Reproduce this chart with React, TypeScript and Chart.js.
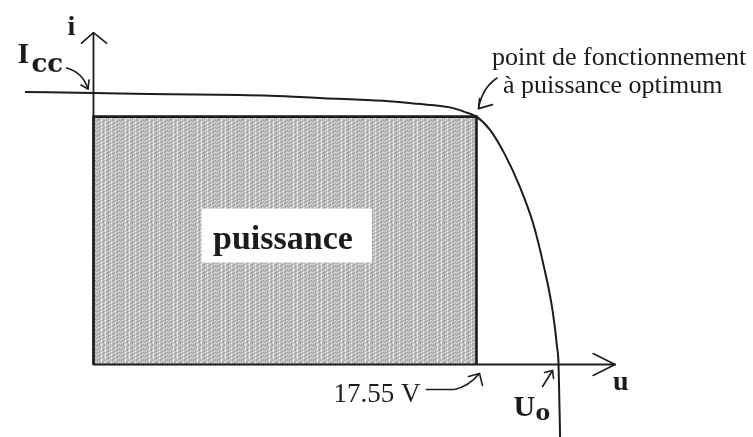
import React, { useEffect, useRef } from "react";
import { Chart, registerables } from "chart.js";

Chart.register(...registerables);

// I–V curve of the panel (u in volts, i relative to Icc)
const curveU = [-3.14, 0, 2.59, 8.09, 10.52, 13.27, 14.82, 16.34, 17.12, 17.55, 18.17, 18.86, 19.54, 20.14, 20.6, 21.01, 21.24, 21.31, 21.38];
const curveI = [1.004, 1.0, 0.996, 0.99, 0.981, 0.971, 0.96, 0.947, 0.927, 0.913, 0.864, 0.772, 0.654, 0.521, 0.374, 0.212, 0.065, 0, -0.267];

// power rectangle at the optimum operating point
const U_OPT = 17.55;
const I_OPT = 0.913;
const rectU = [0, 0, U_OPT, U_OPT];
const rectI = [0, I_OPT, I_OPT, 0];

// axis extents
const X_MIN = -4.284;
const X_MAX = 30.22;
const Y_MIN = -0.267;
const Y_MAX = 1.3425;
const X_AXIS_END = 23.9;
const Y_AXIS_END = 1.222;

const LABEL_POWER = "puissance";
const LABEL_OPT1 = "point de fonctionnement";
const LABEL_OPT2 = "à puissance optimum";
const LABEL_VOPT = "17.55 V";

const INK = "#1c1c1c";
const SERIF = "'Liberation Serif', 'Times New Roman', serif";
const SERIF2 = "'DejaVu Serif', serif";

function makePattern(): CanvasPattern | string {
  const c = document.createElement("canvas");
  c.width = 24;
  c.height = 15;
  const g = c.getContext("2d");
  if (!g) return "#c2c2c2";
  const cols = [196, 182, 204, 176, 198, 226, 186, 180, 202, 230, 184, 194, 172, 204, 190, 222, 184, 198, 178, 212, 192, 176, 206, 188];
  const rows = [0, -22, 12, -10, 18, -30, 6];
  for (let x = 0; x < 24; x++) {
    for (let y = 0; y < 15; y++) {
      const v = Math.max(0, Math.min(255, cols[x] + rows[(x * 5 + y * 3) % 7]));
      g.fillStyle = `rgb(${v},${v},${v})`;
      g.fillRect(x, y, 1, 1);
    }
  }
  const p = g.createPattern(c, "repeat");
  return p || "#c2c2c2";
}

function arrowHead(ctx: CanvasRenderingContext2D, tx: number, ty: number, b1: [number, number], b2: [number, number]) {
  ctx.beginPath();
  ctx.moveTo(b1[0], b1[1]);
  ctx.lineTo(tx, ty);
  ctx.lineTo(b2[0], b2[1]);
  ctx.stroke();
}

const annotPlugin = {
  id: "annot",
  afterDatasetsDraw(chart: any) {
    const ctx: CanvasRenderingContext2D = chart.ctx;
    const xs = chart.scales.x;
    const ys = chart.scales.y;
    const X = (v: number) => xs.getPixelForValue(v);
    const Y = (v: number) => ys.getPixelForValue(v);
    const ox = X(0);
    const oy = Y(0);
    ctx.save();
    ctx.strokeStyle = INK;
    ctx.fillStyle = INK;
    ctx.lineCap = "round";
    ctx.lineJoin = "round";

    // axes
    ctx.lineWidth = 1.8;
    ctx.beginPath();
    ctx.moveTo(ox, oy);
    ctx.lineTo(ox, Y(Y_AXIS_END));
    ctx.moveTo(ox, oy);
    ctx.lineTo(X(X_AXIS_END), oy);
    ctx.stroke();
    ctx.lineWidth = 1.6;
    const yt = Y(Y_AXIS_END);
    arrowHead(ctx, ox, yt, [ox - 12, yt + 10.5], [ox + 13, yt + 10.5]);
    const xt = X(X_AXIS_END);
    arrowHead(ctx, xt, oy, [xt - 22, oy - 11], [xt - 22, oy + 11]);

    // white label box inside the power rectangle
    const rcx = (X(0) + X(U_OPT)) / 2 + 2;
    const rcy = (Y(0) + Y(I_OPT)) / 2 - 5;
    ctx.fillStyle = "#ffffff";
    ctx.fillRect(rcx - 85, rcy - 27, 170, 54);
    ctx.fillStyle = INK;
    ctx.textBaseline = "alphabetic";
    ctx.textAlign = "left";
    ctx.font = `bold 34px ${SERIF}`;
    ctx.fillText(LABEL_POWER, rcx - 74, rcy + 13);

    // axis names
    ctx.font = `bold 28px ${SERIF}`;
    ctx.fillText("i", ox - 26, yt + 2);
    ctx.font = `bold 30px ${SERIF}`;
    ctx.fillText("I", ox - 76, Y(1) - 30);
    ctx.font = `bold 26px ${SERIF2}`;
    ctx.fillText("cc", ox - 62, Y(1) - 21);
    ctx.font = `bold 28px ${SERIF}`;
    ctx.fillText("u", xt - 2, oy + 25);

    // Icc arrow
    ctx.lineWidth = 1.6;
    const ix = ox - 5.5;
    const iy = Y(1) - 4;
    ctx.beginPath();
    ctx.moveTo(ox - 27, Y(1) - 25);
    ctx.quadraticCurveTo(ox - 11, Y(1) - 21, ix, iy);
    ctx.stroke();
    arrowHead(ctx, ix, iy, [ix - 7, iy - 4], [ix + 1, iy - 9]);

    // optimum point annotation
    ctx.font = `26px ${SERIF}`;
    ctx.fillText(LABEL_OPT1, 492, 65);
    ctx.fillText(LABEL_OPT2, 503, 93);
    const px = X(U_OPT) + 2;
    const py = Y(I_OPT) - 8;
    ctx.lineWidth = 1.6;
    ctx.beginPath();
    ctx.moveTo(497, 78);
    ctx.quadraticCurveTo(482, 88, px, py);
    ctx.stroke();
    arrowHead(ctx, px, py, [px + 1, py - 10], [px + 14, py - 4]);

    // 17.55 V annotation
    ctx.font = `27px ${SERIF}`;
    ctx.fillText(LABEL_VOPT, X(U_OPT) - 143, oy + 37);
    const vx = X(U_OPT) + 3;
    const vy = oy + 9;
    ctx.beginPath();
    ctx.moveTo(X(U_OPT) - 50, oy + 25);
    ctx.lineTo(X(U_OPT) - 22, oy + 25);
    ctx.quadraticCurveTo(X(U_OPT) - 8, oy + 22, vx, vy);
    ctx.stroke();
    arrowHead(ctx, vx, vy, [vx - 11, vy + 3], [vx + 3, vy + 12]);

    // Uo annotation
    const uo = X(curveU[curveU.length - 2]);
    ctx.font = `bold 30px ${SERIF}`;
    ctx.fillText("U", uo - 45, oy + 51);
    ctx.font = `bold 22px ${SERIF2}`;
    ctx.fillText("o", uo - 23, oy + 55);
    const ax = uo - 6;
    const ay = oy + 6;
    ctx.beginPath();
    ctx.moveTo(uo - 16, oy + 22);
    ctx.lineTo(ax, ay);
    ctx.stroke();
    arrowHead(ctx, ax, ay, [ax - 8, ay + 2], [ax + 1, ay + 8]);

    ctx.restore();
  },
};

export default function App() {
  const ref = useRef<HTMLCanvasElement | null>(null);

  useEffect(() => {
    const canvas = ref.current;
    if (!canvas) return;
    const pattern = makePattern();
    const chart = new Chart(canvas, {
      type: "scatter",
      data: {
        datasets: [
          {
            label: "i(u)",
            data: curveU.map((u, k) => ({ x: u, y: curveI[k] })),
            showLine: true,
            borderColor: INK,
            borderWidth: 2,
            pointRadius: 0,
            cubicInterpolationMode: "monotone",
            fill: false,
          },
          {
            label: LABEL_POWER,
            data: rectU.map((u, k) => ({ x: u, y: rectI[k] })),
            showLine: true,
            borderColor: INK,
            borderWidth: 2.6,
            pointRadius: 0,
            tension: 0,
            fill: "origin",
            backgroundColor: pattern as any,
          },
        ],
      },
      options: {
        responsive: false,
        animation: false,
        events: [],
        layout: { padding: 0 },
        plugins: {
          legend: { display: false },
          tooltip: { enabled: false },
          title: { display: false },
        },
        scales: {
          x: { type: "linear", min: X_MIN, max: X_MAX, display: false },
          y: { type: "linear", min: Y_MIN, max: Y_MAX, display: false },
        },
      },
      plugins: [annotPlugin],
    });
    return () => chart.destroy();
  }, []);

  return (
    <div style={{ position: "absolute", left: 0, top: 0, width: 753, height: 437, background: "#ffffff" }}>
      <canvas ref={ref} width={753} height={437} style={{ display: "block" }} />
    </div>
  );
}
